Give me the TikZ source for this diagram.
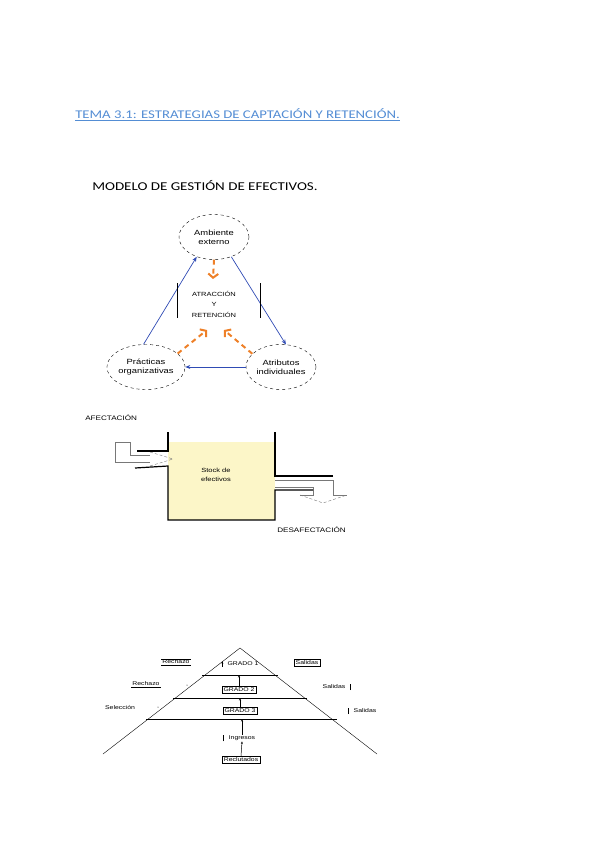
\documentclass[tikz,border=0pt]{standalone}
\usepackage{fontspec}
\setmainfont{Carlito}
\newfontfamily\arial{Liberation Sans}
\usetikzlibrary{shapes.geometric,arrows.meta,positioning}
\definecolor{titulo}{RGB}{84,141,212}
\definecolor{azulflecha}{RGB}{47,75,180}
\definecolor{naranja}{RGB}{238,128,40}
\definecolor{deposito}{RGB}{252,246,200}
\definecolor{gristubo}{RGB}{120,120,120}

\tikzset{
  estirado/.style={xscale=1.25},
  efecto/.style={ellipse,draw,dashed,estirado,minimum width=56pt,minimum height=45pt,inner sep=0pt,align=center,font=\arial\fontsize{7.5}{9}\selectfont},
  flecha/.style={azulflecha,line width=0.7pt,-{Stealth[length=5pt,width=4pt]}},
  retorno/.style={naranja,line width=2pt,dash pattern=on 5pt off 4pt,-{Straight Barb[length=4pt,width=10pt]}},
  rotulo/.style={estirado,inner sep=0.8pt,font=\arial\fontsize{5.5}{6.5}\selectfont},
  grado/.style={rotulo,draw,inner sep=1.4pt},
  sube/.style={-{Stealth[length=2.5pt,width=2pt]},line width=0.5pt}
}

\begin{document}
\begin{tikzpicture}[x=1pt,y=-1pt]
\useasboundingbox (0,0) rectangle (600,848);

\node[estirado,anchor=base west,inner sep=0pt,text=titulo,font=\fontsize{11.8}{14}\selectfont] (tema) at (75,118) {TEMA 3.1: ESTRATEGIAS DE CAPTACIÓN Y RETENCIÓN.};
\draw[titulo,line width=0.6pt] ([yshift=-2pt]tema.base west) -- ([yshift=-2pt]tema.base east);
\node[estirado,anchor=base west,inner sep=0pt,font=\fontsize{12}{14}\selectfont] (modelo) at (92,190) {MODELO DE GESTIÓN DE EFECTIVOS.};

% modelo
\node[efecto] (ambiente) at (214,237) {Ambiente\\externo};
\node[efecto] (practicas) at (146,367) {Prácticas\\organizativas};
\node[efecto] (atributos) at (281,367) {Atributos\\individuales};
\node[estirado,align=center,font=\arial\fontsize{6}{10.5}\selectfont] (atraccion) at (214,304) {ATRACCIÓN\\Y\\RETENCIÓN};

\draw[flecha] (practicas.95) -- (ambiente.235);
\draw[flecha] (ambiente.-55) -- (atributos.80);
\draw[flecha] (atributos.west) -- (practicas.east);

\coordinate (r1) at (213,279);
\coordinate (r2) at (207,330);
\coordinate (r3) at (224,330);
\draw[retorno] (ambiente.south) -- (r1);
\draw[retorno] (practicas.28) -- (r2);
\draw[retorno] (atributos.150) -- (r3);

\draw (177,283) -- (177,318);
\draw (260,283) -- (260,318);

% deposito
\fill[deposito] (168,442) rectangle (275,520);
\draw[gristubo] (115,462) -- (115,442) -- (130,442) -- (130,455) -- (150,455);
\draw[gristubo] (115,462) -- (150,462);
\draw[gristubo,densely dashed] (150,452) -- (173,459) -- (150,466);
\draw[gristubo] (275,480) -- (333,480) -- (333,495) -- (347,495);
\draw[gristubo] (275,487) -- (313,487) -- (313,495) -- (300,495);
\draw[gristubo,densely dashed] (300,495) -- (323,503) -- (347,495);
\draw[line width=1.2pt] (137,451) -- (168,451) -- (168,432);
\draw[line width=1.2pt] (135,468) -- (168,466) -- (168,520) -- (275,520) -- (275,490) -- (313,490);
\draw[line width=1.2pt] (333,476) -- (275,476) -- (275,432);

\node[estirado,anchor=west,inner sep=0pt,font=\arial\fontsize{6.5}{7}\selectfont] (afectacion) at (85,418) {AFECTACIÓN};
\node[estirado,anchor=west,inner sep=0pt,font=\arial\fontsize{6.5}{7}\selectfont] (desafectacion) at (277,530) {DESAFECTACIÓN};
\node[estirado,align=center,font=\arial\fontsize{6}{9}\selectfont] (stock) at (216,475) {Stock de\\efectivos};

% piramide
\coordinate (cima) at (240,648);
\coordinate (basei) at (103,754);
\coordinate (based) at (377,754);
\draw (basei) -- (cima) -- (based);
\draw (202,675) coordinate (n1i) -- (278,675) coordinate (n1d);
\draw (173,698) coordinate (n2i) -- (307,698) coordinate (n2d);
\draw (146,719) coordinate (n3i) -- (337,719) coordinate (n3d);

\node[rotulo] (grado1) at (243,664) {GRADO 1};
\node[grado] (grado2) at (239,690) {GRADO 2};
\node[grado] (grado3) at (240,711) {GRADO 3};
\node[rotulo] (ingreso) at (242,738) {Ingresos};
\node[grado] (reclutas) at (241,760) {Reclutados};

\draw[sube] ([xshift=-4pt]grado1.south west) -- ([xshift=-4pt]grado1.north west);
\draw[sube] (grado2.north) -- (grado2.north |- n1i);
\draw[sube] (grado3.north) -- (grado3.north |- n2i);
\draw[sube] (ingreso.north) -- (ingreso.north |- n3i);
\draw[sube] (reclutas.north) -- (ingreso.south);
\draw ([xshift=-4pt]ingreso.south west) -- ([xshift=-4pt]ingreso.north west);

\node[rotulo] (rechazo1) at (176,662) {Rechazo};
\draw (rechazo1.north west) -- (rechazo1.north east);
\draw (rechazo1.south west) -- (rechazo1.south east);
\node[grado] (salida1) at (307,663) {Salidas};
\node[rotulo] (rechazo2) at (146,684) {Rechazo};
\draw (rechazo2.south west) -- (rechazo2.south east);
\node[rotulo] (salida2) at (334,687) {Salidas};
\draw ([xshift=4pt]salida2.south east) -- ([xshift=4pt]salida2.north east);
\node[rotulo] (seleccion) at (120,707) {Selección};
\node[rotulo] (salida3) at (365,711) {Salidas};
\draw ([xshift=-4pt]salida3.south west) -- ([xshift=-4pt]salida3.north west);
\fill (187,685) circle (0.5);
\fill (158,707) circle (0.5);
\end{tikzpicture}
\end{document}
